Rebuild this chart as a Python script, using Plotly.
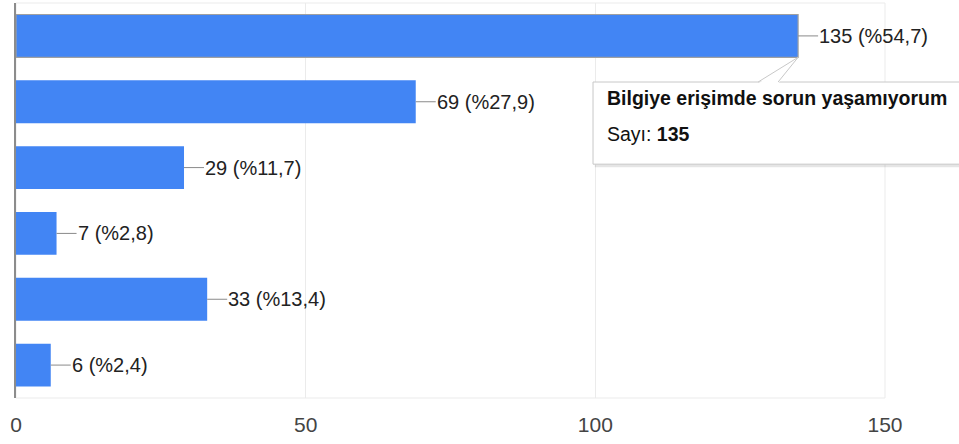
import plotly.graph_objects as go

# ---- data ----
categories = [
    "Bilgiye erişimde sorun yaşamıyorum",
    "Seçenek 2",
    "Seçenek 3",
    "Seçenek 4",
    "Seçenek 5",
    "Seçenek 6",
]
counts = [135, 69, 29, 7, 33, 6]
percents = ["54,7", "27,9", "11,7", "2,8", "13,4", "2,4"]
x_ticks = [0, 50, 100, 150]
tooltip_title = "Bilgiye erişimde sorun yaşamıyorum"
tooltip_label = "Sayı:"

X_MAX = 150
BARGAP = 0.35
FONT = "Arial, 'Liberation Sans', sans-serif"
BLUE = "#4285f4"

labels = [f"{c} (%{p})" for c, p in zip(counts, percents)]

fig = go.Figure()
fig.add_trace(go.Bar(
    x=counts,
    y=categories,
    orientation="h",
    marker=dict(
        color=BLUE,
        line=dict(color=["#a0a0a0"] + ["rgba(0,0,0,0)"] * (len(counts) - 1),
                  width=[1.2] + [0] * (len(counts) - 1)),
    ),
    hoverinfo="skip",
    showlegend=False,
))

annotations = []
for c, cat, lab in zip(counts, categories, labels):
    annotations.append(dict(
        x=c, y=cat, xref="x", yref="y",
        text=lab, showarrow=True, arrowhead=0, arrowwidth=1,
        arrowcolor="#8a8a8a", ax=20, ay=0, xanchor="left", yanchor="middle",
        borderpad=0, standoff=0,
        font=dict(family=FONT, size=20, color="#222222"),
    ))

# ---- tooltip geometry (paper coordinates), anchored on first bar's end ----
n = len(categories)
band = 1.0 / n
tip_x = counts[0] / X_MAX
tip_y = 1 - band / 2 - band * (1 - BARGAP) / 2
box_x0, box_x1 = 0.664, 1.12
box_y0, box_y1 = 0.592, 0.800
tri_x0, tri_x1 = 0.854, 0.877
px = 1 / 395.0

shapes = [
    # plot frame
    dict(type="rect", xref="paper", yref="paper", x0=0, x1=1, y0=0, y1=1,
         line=dict(color="#ebebeb", width=1), fillcolor="rgba(0,0,0,0)", layer="below"),
    # tooltip shadow
    dict(type="rect", xref="paper", yref="paper",
         x0=box_x0 + 0.002, x1=box_x1 + 0.002, y0=box_y0 - 3 * px, y1=box_y1 - 3 * px,
         line=dict(width=0), fillcolor="rgba(0,0,0,0.10)"),
    # tooltip box
    dict(type="rect", xref="paper", yref="paper",
         x0=box_x0, x1=box_x1, y0=box_y0, y1=box_y1,
         line=dict(color="#c8c8c8", width=1), fillcolor="white"),
    # callout wedge
    dict(type="path", xref="paper", yref="paper",
         path=f"M {tri_x0},{box_y1 - 1.5 * px} L {tip_x},{tip_y} L {tri_x1},{box_y1 - 1.5 * px} Z",
         line=dict(color="rgba(0,0,0,0)", width=0), fillcolor="white"),
    dict(type="line", xref="paper", yref="paper",
         x0=tri_x0, y0=box_y1, x1=tip_x, y1=tip_y, line=dict(color="#c8c8c8", width=1)),
    dict(type="line", xref="paper", yref="paper",
         x0=tri_x1, y0=box_y1, x1=tip_x, y1=tip_y, line=dict(color="#c8c8c8", width=1)),
]

annotations.append(dict(
    x=0.678, y=0.760, xref="paper", yref="paper", showarrow=False,
    xanchor="left", yanchor="middle",
    text=f"<b>{tooltip_title}</b>",
    font=dict(family=FONT, size=19.5, color="#111111"),
))
annotations.append(dict(
    x=0.678, y=0.668, xref="paper", yref="paper", showarrow=False,
    xanchor="left", yanchor="middle",
    text=f"{tooltip_label} <b>{counts[0]}</b>",
    font=dict(family=FONT, size=19.5, color="#111111"),
))

fig.update_layout(
    width=959, height=444,
    margin=dict(l=16, r=74, t=3, b=46),
    plot_bgcolor="white", paper_bgcolor="white",
    bargap=BARGAP,
    shapes=shapes,
    annotations=annotations,
    xaxis=dict(
        range=[0, X_MAX], tickvals=x_ticks, ticktext=[str(t) for t in x_ticks],
        showgrid=True, gridcolor="#ebebeb", gridwidth=1,
        zeroline=False, showline=False, ticks="",
        tickfont=dict(family=FONT, size=21, color="#444444"),
        ticklabelstandoff=12,
        fixedrange=True,
    ),
    yaxis=dict(
        autorange="reversed", showticklabels=False, showgrid=False,
        zeroline=False, showline=True, linecolor="#8c8c8c", linewidth=2,
        ticks="", fixedrange=True,
    ),
)

fig.write_html(
    "out.html",
    config={"displayModeBar": False},
    post_script="document.body.style.margin='0';document.body.style.overflow='hidden';",
)
